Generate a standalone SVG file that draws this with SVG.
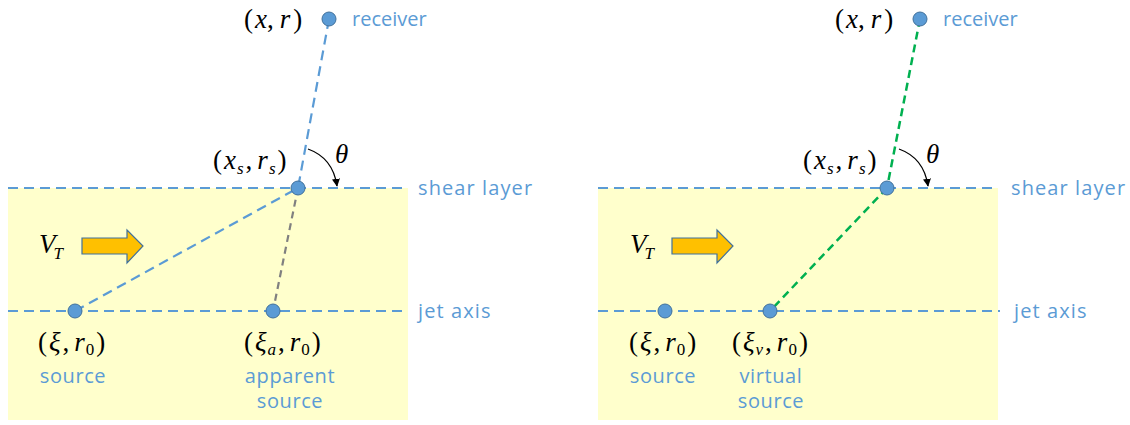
<svg xmlns="http://www.w3.org/2000/svg" width="1130" height="425" viewBox="0 0 1130 425">
<defs>
<style>
.jet{fill:#FFFFCC}
.dash{fill:none;stroke:#5B9BD5;stroke-width:2.2;stroke-dasharray:10,6}
.gray{fill:none;stroke:#808080;stroke-width:2.2;stroke-dasharray:7,5}
.green{fill:none;stroke:#00B050;stroke-width:2.5;stroke-dasharray:8,5}
.dot{fill:#5B9BD5;stroke:#41719C;stroke-width:1}
.lbl{font-family:"Open Sans","Liberation Sans",sans-serif;font-size:20px;fill:#5B9BD5}
.lbl2{font-family:"Open Sans","Liberation Sans",sans-serif;font-size:20px;letter-spacing:0.6px;fill:#5B9BD5}
.wide{letter-spacing:1.1px}
.math{font-family:"Liberation Serif","Times New Roman",serif;font-size:27px;fill:#000}
.it{font-style:italic}
.sub{font-size:17px}
.arc{fill:none;stroke:#000;stroke-width:1.3}
.vt{fill:#FFC000;stroke:#41719C;stroke-width:1.2}
</style>
<marker id="ah" viewBox="0 0 10 10" refX="9" refY="5" markerWidth="8" markerHeight="8" orient="auto-start-reverse" markerUnits="userSpaceOnUse"><path d="M0,0 L10,5 L0,10 Z" fill="#000"/></marker>
</defs>

<!-- Left panel -->
<g id="left-jet"><rect class="jet" x="8" y="188" width="400" height="232"/></g>
<g id="left-connectors">
<line class="dash" x1="8" y1="188" x2="408" y2="188"/>
<line class="dash" x1="8" y1="311" x2="408" y2="311"/>
<line class="dash" x1="329" y1="19" x2="298" y2="188"/>
<line class="dash" x1="75" y1="311" x2="298" y2="188"/>
<line class="gray" x1="298" y1="188" x2="273" y2="311"/>
<path class="arc" d="M308,149 Q333,158 337,186" marker-end="url(#ah)"/>
</g>
<g id="left-receiver">
<circle class="dot" cx="329" cy="19" r="7"/>
<text class="math" x="244" y="28">(<tspan class="it" dx="2">x</tspan>,<tspan class="it" dx="6">r</tspan><tspan dx="3">)</tspan></text>
<text class="lbl" x="352" y="26">receiver</text>
</g>
<g id="left-shear">
<circle class="dot" cx="298" cy="188" r="7"/>
<text class="math" x="213" y="169">(<tspan class="it" dx="2">x</tspan><tspan class="it sub" dy="5" dx="1">s</tspan><tspan dy="-5" dx="2">,</tspan><tspan class="it" dx="5">r</tspan><tspan class="it sub" dy="5" dx="1">s</tspan><tspan dy="-5" dx="2">)</tspan></text>
<text class="math it" x="335" y="163" font-size="29">θ</text>
<text class="lbl wide" x="418" y="195">shear layer</text>
</g>
<g id="left-vt">
<text class="math it" x="39" y="253">V<tspan class="sub" dy="6" dx="-2">T</tspan></text>
<path class="vt" d="M82,238 H127 V230 L143,246 L127,263 V254 H82 Z"/>
</g>
<g id="left-source">
<circle class="dot" cx="75" cy="311" r="7"/>
<text class="math" x="38" y="351">(<tspan class="it" dx="2">ξ</tspan><tspan dx="2">,</tspan><tspan class="it" dx="5">r</tspan><tspan class="sub" dy="4" dx="1">0</tspan><tspan dy="-4" dx="2">)</tspan></text>
<text class="lbl2" x="73" y="383" text-anchor="middle">source</text>
</g>
<g id="left-apparent">
<circle class="dot" cx="273" cy="311" r="7"/>
<text class="math" x="244" y="351">(<tspan class="it" dx="2">ξ</tspan><tspan class="it sub" dy="4" dx="1">a</tspan><tspan dy="-4" dx="2">,</tspan><tspan class="it" dx="5">r</tspan><tspan class="sub" dy="4" dx="1">0</tspan><tspan dy="-4" dx="2">)</tspan></text>
<text class="lbl2" x="290" y="383" text-anchor="middle">apparent</text>
<text class="lbl2" x="290" y="408" text-anchor="middle">source</text>
</g>
<g id="left-jetaxis"><text class="lbl wide" x="418" y="318">jet axis</text></g>

<!-- Right panel -->
<g id="right-jet"><rect class="jet" x="598" y="188" width="400" height="232"/></g>
<g id="right-connectors">
<line class="dash" x1="598" y1="188" x2="998" y2="188"/>
<line class="dash" x1="598" y1="311" x2="1000" y2="311"/>
<line class="green" x1="920" y1="19" x2="887" y2="188"/>
<line class="green" x1="887" y1="188" x2="770" y2="311"/>
<path class="arc" d="M899,149 Q924,158 928,186" marker-end="url(#ah)"/>
</g>
<g id="right-receiver">
<circle class="dot" cx="920" cy="19" r="7"/>
<text class="math" x="835" y="28">(<tspan class="it" dx="2">x</tspan>,<tspan class="it" dx="6">r</tspan><tspan dx="3">)</tspan></text>
<text class="lbl" x="943" y="26">receiver</text>
</g>
<g id="right-shear">
<circle class="dot" cx="887" cy="188" r="7"/>
<text class="math" x="803" y="169">(<tspan class="it" dx="2">x</tspan><tspan class="it sub" dy="5" dx="1">s</tspan><tspan dy="-5" dx="2">,</tspan><tspan class="it" dx="5">r</tspan><tspan class="it sub" dy="5" dx="1">s</tspan><tspan dy="-5" dx="2">)</tspan></text>
<text class="math it" x="926" y="163" font-size="29">θ</text>
<text class="lbl wide" x="1011" y="195">shear layer</text>
</g>
<g id="right-vt">
<text class="math it" x="630" y="253">V<tspan class="sub" dy="6" dx="-2">T</tspan></text>
<path class="vt" d="M672,238 H717 V230 L733,246 L717,263 V254 H672 Z"/>
</g>
<g id="right-source">
<circle class="dot" cx="665" cy="311" r="7"/>
<text class="math" x="629" y="351">(<tspan class="it" dx="2">ξ</tspan><tspan dx="2">,</tspan><tspan class="it" dx="5">r</tspan><tspan class="sub" dy="4" dx="1">0</tspan><tspan dy="-4" dx="2">)</tspan></text>
<text class="lbl2" x="663" y="383" text-anchor="middle">source</text>
</g>
<g id="right-virtual">
<circle class="dot" cx="770" cy="311" r="7"/>
<text class="math" x="732" y="351">(<tspan class="it" dx="2">ξ</tspan><tspan class="it sub" dy="4" dx="1">v</tspan><tspan dy="-4" dx="2">,</tspan><tspan class="it" dx="5">r</tspan><tspan class="sub" dy="4" dx="1">0</tspan><tspan dy="-4" dx="2">)</tspan></text>
<text class="lbl2" x="771" y="383" text-anchor="middle">virtual</text>
<text class="lbl2" x="771" y="408" text-anchor="middle">source</text>
</g>
<g id="right-jetaxis"><text class="lbl wide" x="1014" y="318">jet axis</text></g>
</svg>
